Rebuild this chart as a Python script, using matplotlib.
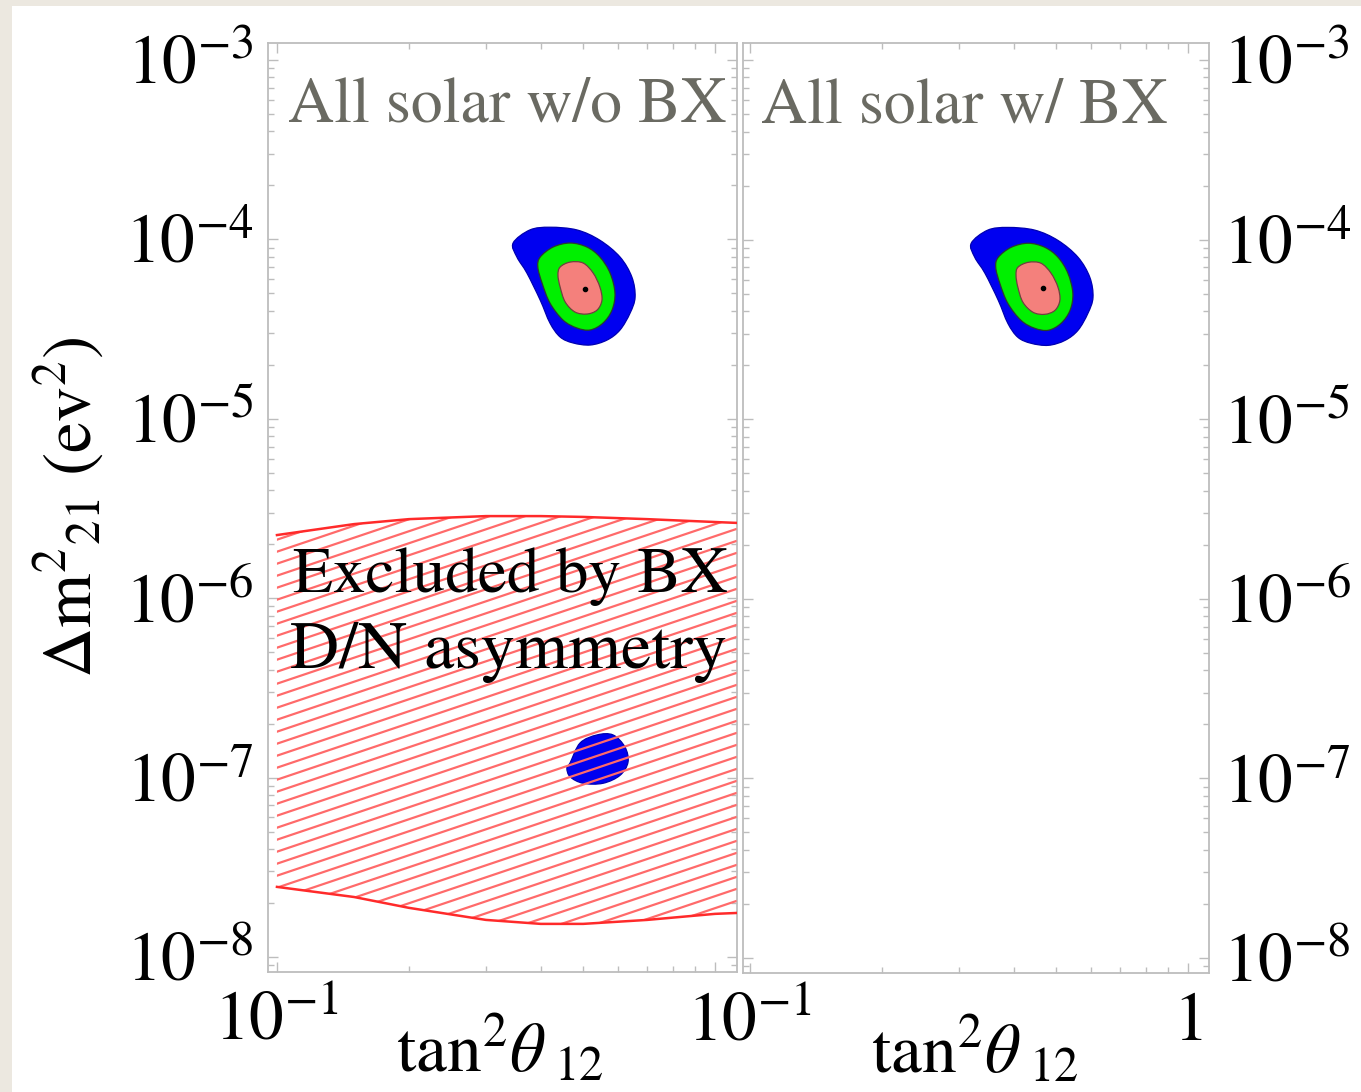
import numpy as np
import matplotlib
matplotlib.use("Agg")
import matplotlib.pyplot as plt
from matplotlib.patches import Polygon, Rectangle, PathPatch
from matplotlib.path import Path
from matplotlib.collections import LineCollection
from matplotlib.ticker import FixedLocator, FixedFormatter, LogLocator, LogFormatterSciNotation, NullFormatter

plt.rcParams['font.family'] = ['STIXGeneral', 'DejaVu Serif']
plt.rcParams['mathtext.fontset'] = 'stix'

# ---------------- text ----------------
panel_titles = ["All solar w/o BX", "All solar w/ BX"]
excluded_lines = ["Excluded by BX", "D/N asymmetry"]
x_label = r"$\mathrm{tan}^{2}\theta_{\ 12}$"
y_label = r"$\Delta\mathrm{m}^{2}{}_{21}\ (\mathrm{ev}^{2})$"

# x tick values and labels per panel
x_ticks = [0.1, 1.0]
x_ticklabels_left = [r"$10^{-1}$", ""]
x_ticklabels_right = [r"$10^{-1}$", r"$1$"]
y_ticks = [1e-8, 1e-7, 1e-6, 1e-5, 1e-4, 1e-3]

# ---------------- LMA allowed regions ----------------
# 3 sigma (blue) boundary
lma3_dm2 = [9.55e-5, 1.13e-4, 1.17e-4, 1.13e-4, 9.9e-5, 7.98e-5, 6.17e-5, 4.77e-5, 3.89e-5,
            3.13e-5, 2.75e-5, 2.58e-5, 2.65e-5, 2.86e-5, 3.42e-5, 4.59e-5, 6.50e-5, 7.98e-5]
lma3_tan2_a = [0.346, 0.378, 0.420, 0.484, 0.546, 0.607, 0.646, 0.657, 0.640,
               0.607, 0.567, 0.519, 0.474, 0.443, 0.420, 0.399, 0.372, 0.353]
lma3_tan2_b = [0.320, 0.349, 0.388, 0.447, 0.505, 0.561, 0.597, 0.607, 0.591,
               0.561, 0.524, 0.480, 0.438, 0.409, 0.388, 0.369, 0.344, 0.326]
# 2 sigma (green) boundary
lma2_dm2 = [7.98e-5, 9.07e-5, 9.55e-5, 9.07e-5, 7.98e-5, 6.50e-5, 5.03e-5, 4.04e-5,
            3.42e-5, 3.13e-5, 3.21e-5, 3.55e-5, 4.42e-5, 5.71e-5, 7.02e-5]
lma2_tan2_a = [0.399, 0.427, 0.467, 0.510, 0.546, 0.576, 0.591, 0.582,
               0.555, 0.519, 0.484, 0.450, 0.420, 0.403, 0.394]
lma2_tan2_b = [0.369, 0.395, 0.432, 0.471, 0.505, 0.532, 0.546, 0.538,
               0.513, 0.480, 0.447, 0.416, 0.388, 0.372, 0.364]
# 1 sigma (pink) boundary
lma1_dm2 = [7.02e-5, 7.48e-5, 7.39e-5, 6.50e-5, 5.43e-5, 4.59e-5, 4.04e-5, 3.84e-5,
            3.94e-5, 4.48e-5, 5.43e-5, 6.33e-5]
lma1_tan2_a = [0.443, 0.467, 0.500, 0.527, 0.546, 0.552, 0.538, 0.510,
               0.479, 0.455, 0.443, 0.438]
lma1_tan2_b = [0.409, 0.432, 0.462, 0.487, 0.505, 0.510, 0.497, 0.471,
               0.443, 0.420, 0.409, 0.405]
best_fit_a = (0.505, 5.29e-5)
best_fit_b = (0.467, 5.40e-5)

# LOW solution island (3 sigma), panel without BX
low_tan2 = [0.467, 0.492, 0.538, 0.585, 0.623, 0.633, 0.607, 0.555, 0.500, 0.467, 0.459]
low_dm2 = [1.21e-7, 1.56e-7, 1.73e-7, 1.73e-7, 1.48e-7, 1.22e-7, 1.03e-7, 9.3e-8, 9.3e-8, 1.01e-7, 1.13e-7]

# Day/night asymmetry exclusion band
excl_tan2 = [0.10, 0.15, 0.20, 0.30, 0.40, 0.50, 0.70, 1.00, 1.12]
excl_top = [2.25e-6, 2.59e-6, 2.76e-6, 2.87e-6, 2.87e-6, 2.84e-6, 2.76e-6, 2.66e-6, 2.63e-6]
excl_bot = [2.46e-8, 2.16e-8, 1.88e-8, 1.61e-8, 1.53e-8, 1.53e-8, 1.61e-8, 1.74e-8, 1.76e-8]

# ---------------- styling ----------------
W, H = 1361, 1092
cream = "#ece8e0"
frame_gray = "#bdbdbd"
title_gray = "#6a6a62"
c_blue, c_green, c_pink = "#0000f0", "#00f000", "#f4807c"
red_line, red_hatch = "#ff2a2a", "#ff6a6a"

fig = plt.figure(figsize=(W / 100, H / 100), dpi=100, facecolor="white")
fig.patches.append(Rectangle((0, 0), 12 / W, 1, transform=fig.transFigure,
                             facecolor=cream, edgecolor="none", zorder=-5))
fig.patches.append(Rectangle((0, 1 - 6 / H), 1, 6 / H, transform=fig.transFigure,
                             facecolor=cream, edgecolor="none", zorder=-5))

ax_l = fig.add_axes([268 / W, (H - 972) / H, 469 / W, 929 / H])
ax_r = fig.add_axes([743 / W, (H - 973) / H, 466 / W, 930 / H])

ylim = (8.25e-9, 1.245e-3)
xlims = [(0.0954, 1.1225), (0.0964, 1.117)]


def style_axes(ax, xlim, xlabels, side):
    ax.set_xscale("log")
    ax.set_yscale("log")
    ax.set_xlim(*xlim)
    ax.set_ylim(*ylim)
    for sp in ax.spines.values():
        sp.set_color(frame_gray)
        sp.set_linewidth(1.3)
    ax.xaxis.set_major_locator(FixedLocator(x_ticks))
    ax.xaxis.set_major_formatter(FixedFormatter(xlabels))
    ax.xaxis.set_minor_locator(LogLocator(base=10, subs=np.arange(2, 10)))
    ax.xaxis.set_minor_formatter(NullFormatter())
    ax.yaxis.set_major_locator(FixedLocator(y_ticks))
    ax.yaxis.set_major_formatter(LogFormatterSciNotation())
    ax.yaxis.set_minor_locator(LogLocator(base=10, subs=np.arange(2, 10), numticks=20))
    ax.yaxis.set_minor_formatter(NullFormatter())
    ax.tick_params(which="both", direction="in", color=frame_gray, width=1.0,
                   top=True, bottom=True, left=True, right=True)
    ax.tick_params(which="major", length=7)
    ax.tick_params(which="minor", length=4)
    ax.tick_params(axis="x", which="major", labelsize=50, pad=14)
    ax.tick_params(axis="y", which="major", labelsize=50, pad=10,
                   labelleft=(side == "left"), labelright=(side == "right"))
    ax.set_xlabel(x_label, fontsize=50)
    ax.xaxis.set_label_coords(0.495, -0.046)


style_axes(ax_l, xlims[0], x_ticklabels_left, "left")
style_axes(ax_r, xlims[1], x_ticklabels_right, "right")
ax_r.xaxis.set_label_coords(0.498, -0.046)

ax_l.set_ylabel(y_label, fontsize=50)
ax_l.yaxis.set_label_coords(-0.345, 0.5)


def smooth_region(xs, ys):
    """Closed Catmull-Rom outline through the given boundary points (built in log space)."""
    p = np.column_stack([np.log10(xs), np.log10(ys)])
    n = len(p)
    verts = [p[0]]
    codes = [Path.MOVETO]
    for i in range(n):
        p0, p1, p2, p3 = p[i - 1], p[i], p[(i + 1) % n], p[(i + 2) % n]
        c1 = p1 + (p2 - p0) / 6.0
        c2 = p2 - (p3 - p1) / 6.0
        verts += [c1, c2, p2]
        codes += [Path.CURVE4] * 3
    verts.append(p[0])
    codes.append(Path.CLOSEPOLY)
    return Path(10.0 ** np.array(verts), codes)


def add_region(ax, xs, ys, face, edge, z):
    ax.add_patch(PathPatch(smooth_region(xs, ys), facecolor=face, edgecolor=edge,
                           lw=0.9, zorder=z))


def draw_lma(ax, t3, t2, t1, bf):
    add_region(ax, t3, lma3_dm2, c_blue, "#0000b0", 3)
    add_region(ax, t2, lma2_dm2, c_green, "#2a402a", 4)
    add_region(ax, t1, lma1_dm2, c_pink, "#704040", 5)
    ax.plot([bf[0]], [bf[1]], "o", color="black", ms=3, zorder=6)


draw_lma(ax_l, lma3_tan2_a, lma2_tan2_a, lma1_tan2_a, best_fit_a)
draw_lma(ax_r, lma3_tan2_b, lma2_tan2_b, lma1_tan2_b, best_fit_b)

# LOW island
add_region(ax_l, low_tan2, low_dm2, c_blue, "#0000b0", 3)

# Exclusion band: hatched with shallow diagonal lines, clipped to the band
band = Polygon(np.column_stack([excl_tan2 + excl_tan2[::-1], excl_top + excl_bot[::-1]]),
               closed=True, facecolor="none", edgecolor="none")
ax_l.add_patch(band)
slope = 0.17
spacing = 12.0 / 929
segs = [[(0, c), (1, c + slope)] for c in np.arange(-0.3, 0.6, spacing)]
hatch = LineCollection(segs, colors=red_hatch, linewidths=1.6, transform=ax_l.transAxes, zorder=7)
hatch.set_clip_path(band)
ax_l.add_collection(hatch)
ax_l.plot(excl_tan2, excl_top, color=red_line, lw=1.8, zorder=7)
ax_l.plot(excl_tan2, excl_bot, color=red_line, lw=1.8, zorder=7)

# Text annotations
ax_l.text(0.51, 0.915, panel_titles[0], transform=ax_l.transAxes, ha="center",
          va="baseline", fontsize=46, color=title_gray, zorder=10)
ax_r.text(0.476, 0.915, panel_titles[1], transform=ax_r.transAxes, ha="center",
          va="baseline", fontsize=46, color=title_gray, zorder=10)
ax_l.text(0.053, 0.409, excluded_lines[0], transform=ax_l.transAxes, ha="left",
          va="baseline", fontsize=47, color="black", zorder=10)
ax_l.text(0.047, 0.327, excluded_lines[1], transform=ax_l.transAxes, ha="left",
          va="baseline", fontsize=49, color="black", zorder=10)

fig.savefig("out.png", dpi=100, facecolor="white")
